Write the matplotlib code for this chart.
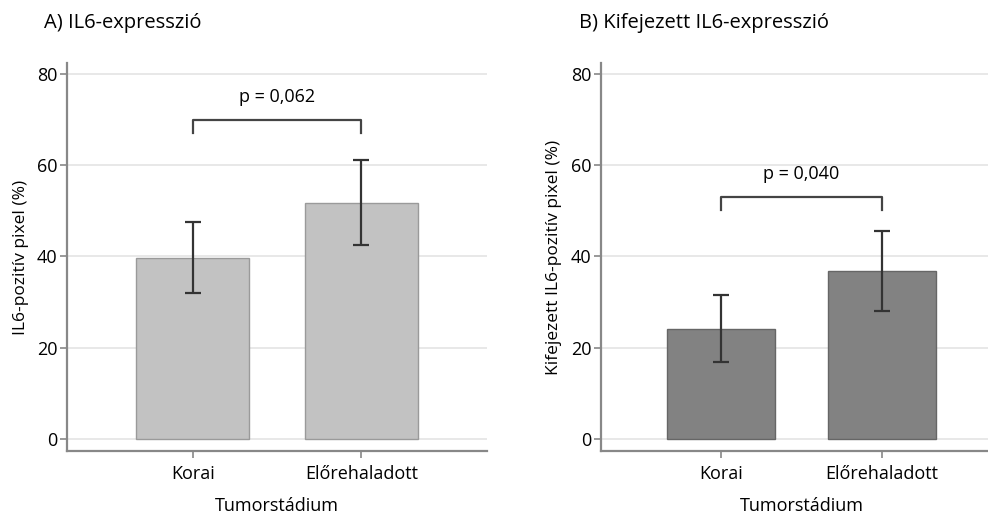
import matplotlib
matplotlib.use('Agg')
import matplotlib.pyplot as plt

plt.rcParams['font.family'] = ['Open Sans', 'DejaVu Sans']

categories = ['Korai', 'Előrehaladott']
xlabel = 'Tumorstádium'

# panel A
a_title = 'A) IL6-expresszió'
a_ylabel = 'IL6-pozitív pixel (%)'
a_means = [39.6, 51.7]
a_low = [31.9, 42.5]
a_high = [47.5, 61.0]
a_p = 'p = 0,062'
a_bracket = 69.9

# panel B
b_title = 'B) Kifejezett IL6-expresszió'
b_ylabel = 'Kifejezett IL6-pozitív pixel (%)'
b_means = [24.1, 36.8]
b_low = [16.8, 28.0]
b_high = [31.6, 45.6]
b_p = 'p = 0,040'
b_bracket = 53.0

yticks = [0, 20, 40, 60, 80]

fig = plt.figure(figsize=(9.88, 5.15), dpi=100)
ax1 = fig.add_axes([0.068, 0.124, 0.425, 0.754])
ax2 = fig.add_axes([0.6083, 0.124, 0.406, 0.754])


def draw_panel(ax, means, low, high, color, edge, ptext, bracket, ylabel):
    x = list(range(len(means)))
    err = [[m - l for m, l in zip(means, low)], [h - m for m, h in zip(means, high)]]
    ax.set_axisbelow(True)
    ax.grid(axis='y', color='#e4e4e4', linewidth=1.2)
    ax.bar(x, means, width=0.67, color=color, edgecolor=edge, linewidth=1.0, zorder=2)
    ax.errorbar(x, means, yerr=err, fmt='none', ecolor='#333333', elinewidth=1.6,
                capsize=5.5, capthick=1.6, zorder=3)
    leg = 2.8
    ax.plot([0, 0, 1, 1], [bracket - leg, bracket, bracket, bracket - leg],
            color='#444444', linewidth=1.6, zorder=3)
    ax.text(0.5, bracket + 3.0, ptext, ha='center', va='bottom', fontsize=13)
    ax.set_xlim(-0.745, 1.745)
    ax.set_ylim(-2.7, 82.4)
    ax.set_yticks(yticks)
    ax.set_xticks(x)
    ax.set_xticklabels(categories, fontsize=13)
    ax.tick_params(axis='both', labelsize=13, color='#888888', length=5, width=1.2)
    ax.tick_params(axis='x', pad=5)
    ax.tick_params(axis='y', pad=2)
    for s in ['top', 'right']:
        ax.spines[s].set_visible(False)
    for s in ['left', 'bottom']:
        ax.spines[s].set_color('#888888')
        ax.spines[s].set_linewidth(1.6)
    ax.set_ylabel(ylabel, fontsize=12.5, labelpad=6)
    ax.set_xlabel(xlabel, fontsize=13, labelpad=10)


draw_panel(ax1, a_means, a_low, a_high, '#c2c2c2', '#9a9a9a', a_p, a_bracket, a_ylabel)
draw_panel(ax2, b_means, b_low, b_high, '#828282', '#666666', b_p, b_bracket, b_ylabel)

fig.text(0.045, 0.955, a_title, fontsize=14.5, va='center')
fig.text(0.586, 0.955, b_title, fontsize=14.5, va='center')

fig.savefig('out.png', dpi=100)
